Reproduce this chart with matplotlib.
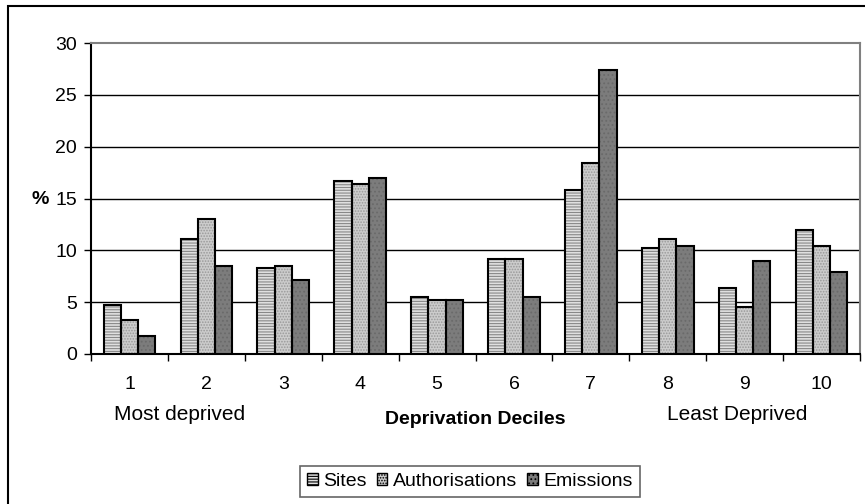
import matplotlib.pyplot as plt
import numpy as np
from matplotlib.patches import Rectangle

plt.rcParams['font.family'] = ['Liberation Sans', 'DejaVu Sans']
plt.rcParams['hatch.linewidth'] = 0.8

deciles = ['1', '2', '3', '4', '5', '6', '7', '8', '9', '10']
sites = [4.7, 11.1, 8.3, 16.7, 5.5, 9.2, 15.8, 10.2, 6.4, 12.0]
authorisations = [3.3, 13.0, 8.5, 16.4, 5.2, 9.2, 18.4, 11.1, 4.5, 10.4]
emissions = [1.7, 8.5, 7.1, 17.0, 5.2, 5.5, 27.4, 10.4, 9.0, 7.9]

series = [
    ('Sites', sites, '#e0e0e0', '#888888', '------'),
    ('Authorisations', authorisations, '#cccccc', '#999999', '......'),
    ('Emissions', emissions, '#7c7c7c', '#6a6a6a', '....'),
]

fig = plt.figure(figsize=(8.65, 5.04), dpi=100)
ax = fig.add_axes([91 / 865, 1 - 354 / 504, (860 - 91) / 865, (354 - 43) / 504])

x = np.arange(1, len(deciles) + 1)
width = 0.224
handles = []
for i, (name, vals, face, hcol, hatch) in enumerate(series):
    pos = x + (i - 1) * width
    ax.bar(pos, vals, width, color=face, edgecolor=hcol, hatch=hatch,
           linewidth=0, zorder=3)
    ax.bar(pos, vals, width, fill=False, edgecolor='black', linewidth=1.5,
           zorder=4)
    handles.append(Rectangle((0, 0), 1, 1, facecolor=face, edgecolor='black',
                             hatch=hatch, linewidth=1.0, label=name))

ax.set_xlim(0.5, 10.5)
ax.set_ylim(0, 30)
ax.set_yticks(range(0, 31, 5))
ax.tick_params(axis='y', labelsize=14, length=5, width=1, direction='out', pad=5)
ax.set_xticks(np.arange(0.5, 11, 1))
ax.set_xticklabels([])
ax.tick_params(axis='x', which='major', length=5, width=1, direction='out')
ax.set_xticks(x, minor=True)
ax.set_xticklabels(deciles, minor=True)
ax.tick_params(axis='x', which='minor', length=0, labelsize=14, pad=16)

for yv in range(5, 30, 5):
    ax.axhline(yv, color='black', linewidth=1, zorder=1)

ax.spines['left'].set_linewidth(1.5)
ax.spines['bottom'].set_linewidth(1.5)
for s in ['top', 'right']:
    ax.spines[s].set_color('#808080')
    ax.spines[s].set_linewidth(1.5)

fig.text(40 / 865, 1 - 200 / 504, '%', fontsize=14, fontweight='bold',
         ha='center', va='center')
fig.text(180 / 865, 1 - 415 / 504, 'Most deprived', fontsize=15,
         ha='center', va='center')
fig.text(737 / 865, 1 - 415 / 504, 'Least Deprived', fontsize=15,
         ha='center', va='center')
fig.text(475 / 865, 1 - 419 / 504, 'Deprivation Deciles', fontsize=14,
         fontweight='bold', ha='center', va='center')

leg = fig.legend(handles=handles, loc='center', ncol=3,
                 bbox_to_anchor=(470 / 865, 1 - 481.5 / 504), fontsize=14,
                 frameon=True, fancybox=False, handlelength=0.55,
                 handleheight=0.55, handletextpad=0.3, columnspacing=0.5,
                 borderpad=0.35)
leg.get_frame().set_edgecolor('#404040')
leg.get_frame().set_linewidth(1.2)

fig.patches.append(Rectangle((8 / 865, -0.1), 1.2, 1 - 6 / 504 + 0.1,
                             transform=fig.transFigure, fill=False,
                             edgecolor='black', linewidth=1.5))

fig.savefig('out.png', dpi=100)
